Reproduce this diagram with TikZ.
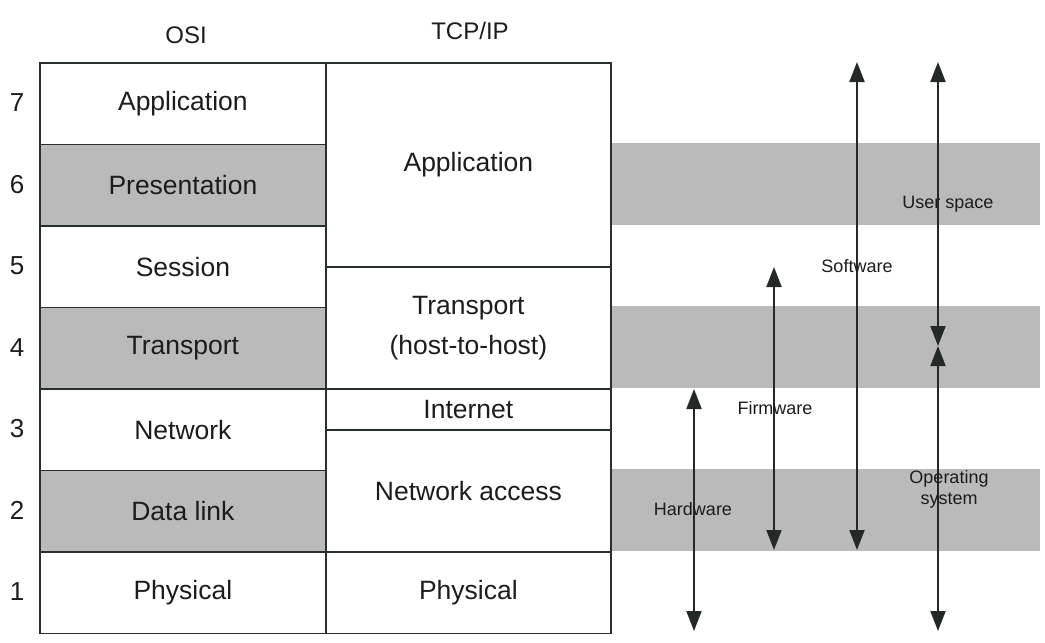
\documentclass[tikz,border=0pt]{standalone}
\usepackage{fontspec}
\setmainfont{Liberation Sans}
\usetikzlibrary{arrows.meta}
\definecolor{ink}{RGB}{40,48,45}
\definecolor{band}{RGB}{186,186,186}
\definecolor{txt}{RGB}{28,28,28}
\begin{document}
\begin{tikzpicture}[x=1pt,y=-1pt,
  cell/.style={draw=ink, line width=1.8pt, inner sep=0pt, anchor=north west,
    minimum width=286pt, text=txt, align=center,
    font=\fontsize{26.5}{40}\selectfont},
  shaded/.style={fill=band},
  num/.style={text=txt, font=\fontsize{26}{30}\selectfont},
  head/.style={text=txt, font=\fontsize{24}{28}\selectfont},
  span/.style={draw=ink!85!black, line width=2pt,
    {Triangle[length=20pt,width=15pt]}-{Triangle[length=20pt,width=15pt]}},
  tag/.style={text=txt, align=center, font=\fontsize{18}{21}\selectfont}]
\useasboundingbox (0,0) rectangle (1045,643);

% grey bands behind the right-hand arrows
\fill[band] (612,143) rectangle (1040,225);
\fill[band] (612,306) rectangle (1040,388);
\fill[band] (612,469) rectangle (1040,551);

% headers
\node[head] (hosi) at (186,35) {OSI};
\node[head] (htcp) at (470,31) {TCP/IP};

% OSI column
\node[cell, minimum height=81.5pt] (o7) at (39,62) {Application};
\node[cell, shaded, minimum height=81.5pt] (o6) at (39,143.5) {Presentation};
\node[cell, minimum height=81.5pt] (o5) at (39,225) {Session};
\node[cell, shaded, minimum height=81.5pt] (o4) at (39,306.5) {Transport};
\node[cell, minimum height=81.5pt] (o3) at (39,388) {Network};
\node[cell, shaded, minimum height=81.5pt] (o2) at (39,469.5) {Data link};
\node[cell, minimum height=81.5pt] (o1) at (39,551) {Physical};

% TCP/IP column
\node[cell, minimum width=285pt, minimum height=204pt] (t4) at (325,62) {Application};
\node[cell, minimum width=285pt, minimum height=122pt] (t3) at (325,266) {Transport\\(host-to-host)};
\node[cell, minimum width=285pt, minimum height=41pt] (t2) at (325,388) {Internet};
\node[cell, minimum width=285pt, minimum height=122pt] (t1) at (325,429) {Network access};
\node[cell, minimum width=285pt, minimum height=81.5pt] (t0) at (325,551) {Physical};

% layer numbers
\node[num] (n7) at (17,102.75) {7};
\node[num] (n6) at (17,184.25) {6};
\node[num] (n5) at (17,265.75) {5};
\node[num] (n4) at (17,347.25) {4};
\node[num] (n3) at (17,428.75) {3};
\node[num] (n2) at (17,510.25) {2};
\node[num] (n1) at (17,591.75) {1};

% arrow end points
\coordinate (hwT) at (694,389);
\coordinate (hwB) at (694,631);
\coordinate (fwT) at (774,267);
\coordinate (fwB) at (774,550);
\coordinate (swT) at (857,62);
\coordinate (swB) at (857,550);
\coordinate (usT) at (938,62);
\coordinate (usB) at (938,346);
\coordinate (osT) at (938,346);
\coordinate (osB) at (938,631);

\draw[span] (hwT) -- (hwB);
\draw[span] (fwT) -- (fwB);
\draw[span] (swT) -- (swB);
\draw[span] (usT) -- (usB);
\draw[span] (osT) -- (osB);

% arrow captions
\node[tag] (lhw) at (693,509) {Hardware};
\node[tag] (lfw) at (775,408) {Firmware};
\node[tag] (lsw) at (857,266) {Software};
\node[tag] (lus) at (948,204) {User space};
\node[tag] (los) at (949,489) {Operating\\system};
\end{tikzpicture}
\end{document}
